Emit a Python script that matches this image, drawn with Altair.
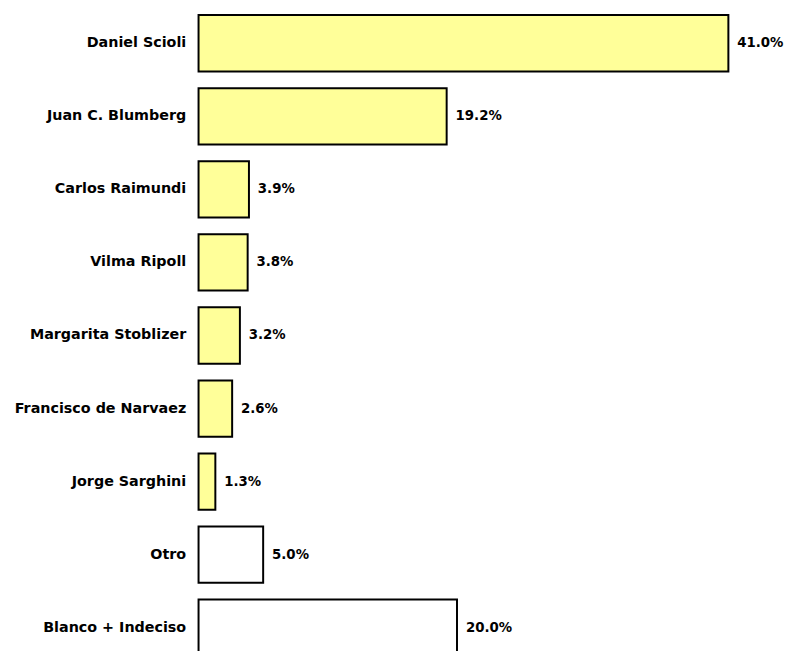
import altair as alt
import pandas as pd

names = ["Daniel Scioli", "Juan C. Blumberg", "Carlos Raimundi", "Vilma Ripoll",
         "Margarita Stoblizer", "Francisco de Narvaez", "Jorge Sarghini", "Otro",
         "Blanco + Indeciso"]
values = [41.0, 19.2, 3.9, 3.8, 3.2, 2.6, 1.3, 5.0, 20.0]
groups = ["candidato"] * 7 + ["otro", "otro"]

df = pd.DataFrame({"name": names, "value": values, "group": groups})

y = alt.Y("name:N", sort=names,
          scale=alt.Scale(paddingInner=0.229, paddingOuter=0.04),
          axis=alt.Axis(title=None, domain=False, ticks=False, labelPadding=13,
                        labelFont="DejaVu Sans", labelFontWeight="bold",
                        labelFontSize=14.5, labelColor="#000000", labelLimit=300))
x = alt.X("value:Q", scale=alt.Scale(domain=[0, 45], nice=False, zero=True), axis=None)

bars = alt.Chart(df).mark_bar(stroke="#000000", strokeWidth=2).encode(
    x=x, y=y,
    color=alt.Color("group:N", scale=alt.Scale(domain=["candidato", "otro"],
                                               range=["#FFFF99", "#FFFFFF"]), legend=None),
)

labels = alt.Chart(df).transform_calculate(
    label="format(datum.value, '.1f') + '%'"
).mark_text(align="left", baseline="middle", dx=9, font="DejaVu Sans",
            fontWeight="bold", fontSize=13.5, color="#000000").encode(
    x=x, y=y, text="label:N")

chart = (bars + labels).properties(
    width=589, height=655,
    autosize=alt.AutoSizeParams(type="none"),
    padding={"left": 193, "top": 0, "right": 5, "bottom": 0},
).configure_view(stroke=None)

chart.save("out.html", embed_options={"renderer": "svg", "actions": False})
